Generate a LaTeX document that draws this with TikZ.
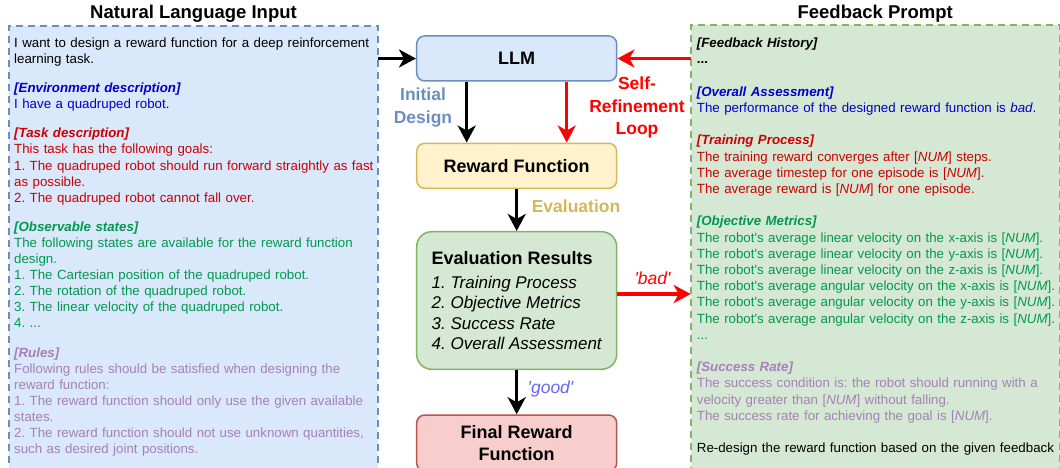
\documentclass[tikz,border=0pt]{standalone}
\usepackage{fontspec}
\setmainfont{Liberation Sans}[Ligatures=TeXOff]
\usetikzlibrary{arrows.meta}

\definecolor{llmfill}{HTML}{DAE8FC}
\definecolor{llmdraw}{HTML}{6C8EBF}
\definecolor{rwdfill}{HTML}{FFF2CC}
\definecolor{rwddraw}{HTML}{D6B656}
\definecolor{evalfill}{HTML}{D5E8D4}
\definecolor{evaldraw}{HTML}{82B366}
\definecolor{finfill}{HTML}{F8CECC}
\definecolor{findraw}{HTML}{B85450}
\definecolor{loopred}{HTML}{FF0000}
\definecolor{envblue}{HTML}{0000CC}
\definecolor{taskred}{HTML}{CC0000}
\definecolor{obsgreen}{HTML}{00994D}
\definecolor{rulepurple}{HTML}{A680B8}
\definecolor{goodblue}{HTML}{6666FF}

\newcommand{\numph}{[\textit{NUM}]}
\frenchspacing

\begin{document}
\begin{tikzpicture}[x=10pt, y=10pt,
    promptbox/.style={line width=2pt, dash pattern=on 7pt off 5pt, minimum width=369pt,
      minimum height=452pt, anchor=north west, inner sep=0pt, outer sep=0pt},
    boxtitle/.style={anchor=base, font=\fontsize{18.5}{22}\selectfont\bfseries},
    prompttext/.style={anchor=base west, align=left, inner sep=0pt, text width=420pt},
    stagebox/.style={draw, rounded corners=8pt, line width=1.5pt, minimum width=200pt,
      minimum height=45pt, align=center, font=\fontsize{18}{21.7}\selectfont\bfseries},
    steplabel/.style={align=center, font=\fontsize{17.5}{22.5}\selectfont\bfseries},
    verdict/.style={font=\fontsize{17.5}{20}\selectfont\itshape},
    flow/.style={line width=3.5pt, -{Stealth[length=17pt, width=18pt, inset=5pt]}},
  ]
  \useasboundingbox (0, 0) rectangle (106, 46.7);

  % the two prompt panels
  \node[promptbox, draw=llmdraw, fill=llmfill] (nlin) at (0.9, 44.13) {};
  \node[promptbox, draw=evaldraw, fill=evalfill] (fbin) at (69.07, 44.2) {};
  \node[boxtitle] (nltitle) at ([yshift=7.4pt]nlin.north) {Natural Language Input};
  \node[boxtitle] (fbtitle) at ([yshift=6.7pt]fbin.north) {Feedback Prompt};

  \node[prompttext, font=\fontsize{13.3}{16.1}\selectfont] (nltext) at (1.4, 41.95) {%
    I want to design a reward function for a deep reinforcement\\
    learning task.\\[13pt]
    \color{envblue}\textbf{\textit{[Environment description]}}\\
    I have a quadruped robot.\\[13pt]
    \color{taskred}\textbf{\textit{[Task description]}}\\
    This task has the following goals:\\
    1. The quadruped robot should run forward straightly as fast\\
    as possible.\\
    2. The quadruped robot cannot fall over.\\[13pt]
    \color{obsgreen}\textbf{\textit{[Observable states]}}\\
    The following states are available for the reward function\\
    design.\\
    1. The Cartesian position of the quadruped robot.\\
    2. The rotation of the quadruped robot.\\
    3. The linear velocity of the quadruped robot.\\
    4. ...\\[13pt]
    \color{rulepurple}\textbf{\textit{[Rules]}}\\
    Following rules should be satisfied when designing the\\
    reward function:\\
    1. The reward function should only use the given available\\
    states.\\
    2. The reward function should not use unknown quantities,\\
    such as desired joint positions.};

  \node[prompttext, font=\fontsize{13.3}{16.2}\selectfont] (fbtext) at (69.67, 41.93) {%
    \textbf{\textit{[Feedback History]}}\\
    \textbf{...}\\[16.2pt]
    \color{envblue}\textbf{\textit{[Overall Assessment]}}\\
    The performance of the designed reward function is \textit{bad}.\\[16.2pt]
    \color{taskred}\textbf{\textit{[Training Process]}}\\
    The training reward converges after \numph{} steps.\\
    The average timestep for one episode is \numph.\\
    The average reward is \numph{} for one episode.\\[16.2pt]
    \color{obsgreen}\textbf{\textit{[Objective Metrics]}}\\
    The robot's average linear velocity on the x-axis is \numph.\\
    The robot's average linear velocity on the y-axis is \numph.\\
    The robot's average linear velocity on the z-axis is \numph.\\
    The robot's average angular velocity on the x-axis is \numph.\\
    The robot's average angular velocity on the y-axis is \numph.\\
    The robot's average angular velocity on the z-axis is \numph.\\
    ...\\[16.2pt]
    \color{rulepurple}\textbf{\textit{[Success Rate]}}\\
    The success condition is: the robot should running with a\\
    velocity greater than \numph{} without falling.\\
    The success rate for achieving the goal is \numph.\\[16.2pt]
    \color{black}Re-design the reward function based on the given feedback};

  % the design loop
  \node[stagebox, fill=llmfill, draw=llmdraw] (llm) at (51.67, 40.85) {LLM};
  \node[stagebox, fill=rwdfill, draw=rwddraw] (rwd) at (51.67, 30.12) {Reward Function};
  \node[stagebox, fill=evalfill, draw=evaldraw, rounded corners=15pt, minimum height=137.6pt,
    font=\fontsize{17}{20.5}\selectfont\itshape, align=left] (evres) at (51.67, 16.65)
    {{\fontsize{18}{20.5}\selectfont\upshape\bfseries Evaluation Results}\\[3.2pt]
     1. Training Process\\
     2. Objective Metrics\\
     3. Success Rate\\
     4. Overall Assessment};
  \node[stagebox, fill=finfill, draw=findraw, minimum height=56pt] (final) at (51.67, 2.4)
    {Final Reward\\Function};

  \node[steplabel, text=llmdraw] (initlbl) at (42.3, 35.95) {Initial\\Design};
  \node[steplabel, text=loopred] (looplbl) at (63.7, 35.95) {Self-\\Refinement\\Loop};
  \node[steplabel, text=rwddraw] (evallbl) at (57.6, 26.03) {Evaluation};
  \node[verdict, text=loopred] (badlbl) at (65.25, 18.87) {'bad'};
  \node[verdict, text=goodblue] (goodlbl) at (55.05, 7.85) {'good'};

  \draw[flow] (nlin.east |- llm.west) -- (llm.west);
  \draw[flow, loopred] (fbin.west |- llm.east) -- (llm.east);
  \draw[flow] ([xshift=-50pt]llm.south) -- ([xshift=-50pt]rwd.north);
  \draw[flow, loopred] ([xshift=50pt]llm.south) -- ([xshift=50pt]rwd.north);
  \draw[flow] (rwd) -- (evres);
  \draw[flow, loopred] ([yshift=6.5pt]evres.east) -- ([yshift=6.5pt]evres.east -| fbin.west);
  \draw[flow] (evres) -- (final);
\end{tikzpicture}
\end{document}
